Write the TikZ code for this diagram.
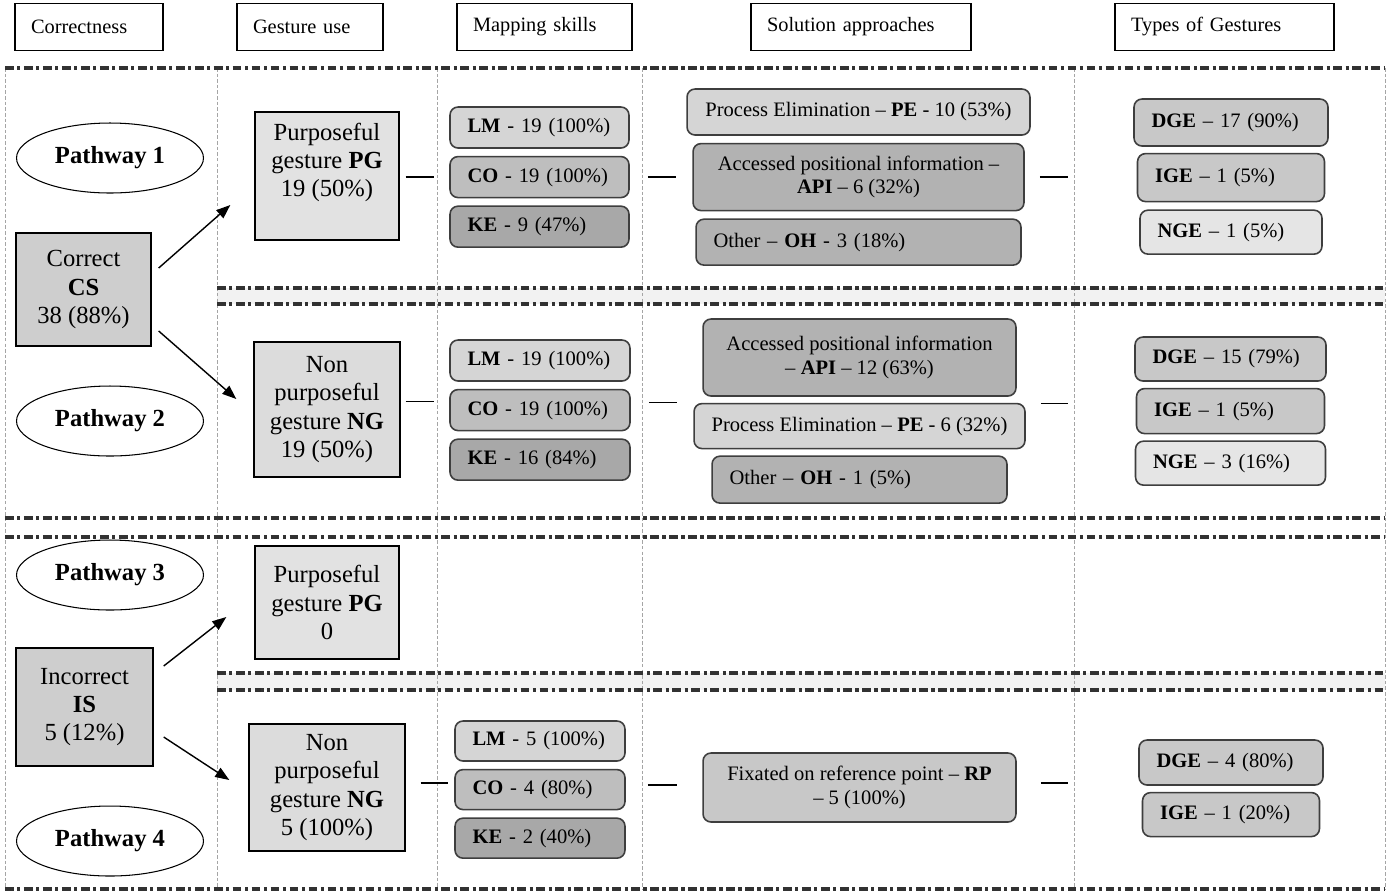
\documentclass[tikz,border=0pt]{standalone}
\usepackage{fontspec}
\setmainfont{Liberation Serif}
\usepackage{tikz}
\usepackage{xcolor}
\usetikzlibrary{arrows.meta, positioning, shapes.geometric}
\definecolor{BandGrey}{RGB}{242, 242, 242}
\definecolor{EdgeGrey}{RGB}{62, 62, 62}
\definecolor{RuleGrey}{RGB}{50, 50, 50}
\definecolor{GridGrey}{RGB}{165, 165, 165}
\definecolor{PaleFill}{RGB}{226, 226, 226}
\definecolor{NonFill}{RGB}{220, 220, 220}
\definecolor{BoxFill}{RGB}{206, 206, 206}
\definecolor{SoftFill}{RGB}{213, 213, 213}
\definecolor{MidFill}{RGB}{200, 200, 200}
\definecolor{ToneFill}{RGB}{190, 190, 190}
\definecolor{DeepFill}{RGB}{178, 178, 178}
\definecolor{DarkFill}{RGB}{168, 168, 168}
\definecolor{LightFill}{RGB}{229, 229, 229}

\begin{document}
\begin{tikzpicture}[
    x=0.02cm, y=-0.02cm,
    header/.style={draw, line width=0.8pt, font=\fontsize{11.6}{13.4}\selectfont,
        minimum height=0.94cm, inner xsep=0.32cm, align=left, text width=#1},
    pathway/.style={ellipse, draw, line width=0.6pt, fill=white,
        minimum width=3.74cm, minimum height=1.4cm, inner sep=0pt,
        font=\fontsize{14}{16}\selectfont\bfseries},
    result/.style={rectangle, draw, line width=0.8pt, fill=BoxFill,
        align=center, font=\fontsize{14}{16}\selectfont},
    gesture/.style={result, fill=PaleFill},
    skill/.style={rectangle, rounded corners=0.16cm, draw=EdgeGrey, line width=0.9pt,
        font=\fontsize{11.7}{13.4}\selectfont, inner xsep=0.35cm, align=center},
    leftskill/.style={skill, align=left, text width=#1},
    colrule/.style={draw=GridGrey, line width=0.5pt, dash pattern=on 2pt off 1.2pt},
    rowrule/.style={draw=RuleGrey, line width=2pt, dash pattern=on 5pt off 2pt on 1.8pt off 2pt},
    link/.style={draw=black, line width=0.8pt},
    arr/.style={draw=black, line width=0.8pt, -{Triangle[length=8pt, width=6pt]}}
]

\fill[white] (0,0) rectangle (1388,894);
\useasboundingbox (0,0) rectangle (1388,894);

% Frame
\fill[BandGrey] (217,288) rectangle (1385,304);
\fill[BandGrey] (217,673) rectangle (1385,690);
\foreach \x in {5,217,437,642,1074,1385}
    \draw[colrule] (\x,68) -- (\x,889);
\foreach \y in {68,518,537,889}
    \draw[rowrule] (5,\y) -- (1385,\y);
\foreach \y in {288,304,673,690}
    \draw[rowrule] (217,\y) -- (1385,\y);

% Column headers
\node[header=2.32cm] (hCorr) at (89,27) {Correctness};
\node[header=2.28cm] (hGest) at (310,27) {Gesture use};
\node[header=2.86cm] (hMap) at (544.5,27) {Mapping skills};
\node[header=3.76cm] (hSol) at (861,27) {Solution approaches};
\node[header=3.74cm] (hType) at (1224.5,27) {Types of Gestures};

% Pathways
\node[pathway] (pw1) at (110,158) {Pathway 1};
\node[pathway] (pw2) at (110,421) {Pathway 2};
\node[pathway] (pw3) at (110,575) {Pathway 3};
\node[pathway] (pw4) at (110,841) {Pathway 4};

% Correctness
\node[result, minimum width=2.7cm, minimum height=2.26cm] (cs) at (83.5,289.5) {Correct\\\textbf{CS}\\38 (88\%)};
\node[result, minimum width=2.74cm, minimum height=2.36cm] (is) at (84.5,707) {Incorrect\\\textbf{IS}\\5 (12\%)};

% Gesture use
\node[gesture, minimum width=2.88cm, minimum height=2.56cm] (pg1) at (327,176) {Purposeful\\gesture \textbf{PG}\\19 (50\%)\\[-2pt]\strut};
\node[gesture, fill=NonFill, minimum width=2.92cm, minimum height=2.7cm] (ng2) at (327,409.5) {Non\\purposeful\\gesture \textbf{NG}\\19 (50\%)};
\node[gesture, minimum width=2.88cm, minimum height=2.26cm] (pg3) at (327,602.5) {Purposeful\\gesture \textbf{PG}\\0};
\node[gesture, fill=NonFill, minimum width=3.12cm, minimum height=2.54cm] (ng4) at (327,787.5) {Non\\purposeful\\gesture \textbf{NG}\\5 (100\%)};

% Mapping skills
\node[leftskill=2.88cm, fill=SoftFill, minimum height=0.82cm] (lm1) at (539.5,127.5) {\textbf{LM} - 19 (100\%)};
\node[leftskill=2.88cm, fill=ToneFill, minimum height=0.82cm, below=0.14cm of lm1] (co1) {\textbf{CO} - 19 (100\%)};
\node[leftskill=2.88cm, fill=DarkFill, minimum height=0.82cm, below=0.14cm of co1] (ke1) {\textbf{KE} - 9 (47\%)};
\node[leftskill=2.9cm, fill=SoftFill, minimum height=0.82cm] (lm2) at (540,360.5) {\textbf{LM} - 19 (100\%)};
\node[leftskill=2.9cm, fill=ToneFill, minimum height=0.82cm, below=0.14cm of lm2] (co2) {\textbf{CO} - 19 (100\%)};
\node[leftskill=2.9cm, fill=DarkFill, minimum height=0.82cm, below=0.14cm of co2] (ke2) {\textbf{KE} - 16 (84\%)};
\node[leftskill=2.7cm, fill=SoftFill, minimum height=0.8cm] (lm4) at (540,741) {\textbf{LM} - 5 (100\%)};
\node[leftskill=2.7cm, fill=ToneFill, minimum height=0.8cm, below=0.14cm of lm4] (co4) {\textbf{CO} - 4 (80\%)};
\node[leftskill=2.7cm, fill=DarkFill, minimum height=0.8cm, below=0.14cm of co4] (ke4) {\textbf{KE} - 2 (40\%)};

% Solution approaches
\node[skill, fill=SoftFill, minimum width=6.86cm, minimum height=0.92cm] (pe1) at (858.5,112) {Process Elimination -- \textbf{PE} - 10 (53\%)};
\node[skill, fill=DeepFill, minimum width=6.62cm, minimum height=1.34cm, below=0.14cm of pe1] (api1) {Accessed positional information --\\\textbf{API} -- 6 (32\%)};
\node[leftskill=5.8cm, fill=DeepFill, minimum height=0.92cm, below=0.14cm of api1] (oh1) {Other -- \textbf{OH} - 3 (18\%)};
\node[skill, fill=DeepFill, minimum width=6.26cm, minimum height=1.54cm] (api2) at (859.5,357.5) {Accessed positional information\\-- \textbf{API} -- 12 (63\%)};
\node[skill, fill=SoftFill, minimum width=6.62cm, minimum height=0.9cm, below=0.12cm of api2] (pe2) {Process Elimination -- \textbf{PE} - 6 (32\%)};
\node[leftskill=5.2cm, fill=DeepFill, minimum height=0.94cm, below=0.12cm of pe2] (oh2) {Other -- \textbf{OH} - 1 (5\%)};
\node[skill, fill=MidFill, minimum width=6.26cm, minimum height=1.38cm] (rp4) at (859.5,787.5) {Fixated on reference point -- \textbf{RP}\\-- 5 (100\%)};

% Types of gestures
\node[leftskill=3.18cm, fill=MidFill, minimum height=0.94cm] (dge1) at (1231,122.5) {\textbf{DGE} -- 17 (90\%)};
\node[leftskill=3.04cm, fill=MidFill, minimum height=0.96cm, below=0.12cm of dge1] (ige1) {\textbf{IGE} -- 1 (5\%)};
\node[leftskill=2.94cm, fill=LightFill, minimum height=0.88cm, below=0.14cm of ige1] (nge1) {\textbf{NGE} -- 1 (5\%)};
\node[leftskill=3.12cm, fill=MidFill, minimum height=0.88cm] (dge2) at (1230.5,359) {\textbf{DGE} -- 15 (79\%)};
\node[leftskill=3.06cm, fill=MidFill, minimum height=0.9cm, below=0.12cm of dge2] (ige2) {\textbf{IGE} -- 1 (5\%)};
\node[leftskill=3.1cm, fill=LightFill, minimum height=0.88cm, below=0.12cm of ige2] (nge2) {\textbf{NGE} -- 3 (16\%)};
\node[leftskill=2.98cm, fill=MidFill, minimum height=0.9cm] (dge4) at (1231,762.5) {\textbf{DGE} -- 4 (80\%)};
\node[leftskill=2.84cm, fill=MidFill, minimum height=0.88cm, below=0.12cm of dge4] (ige4) {\textbf{IGE} -- 1 (20\%)};

% Correctness to gesture use
\draw[arr] ([shift={(7,-21.5)}]cs.east) -- ([shift={(-24,29)}]pg1.west);
\draw[arr] ([shift={(7,41.5)}]cs.east) -- ([shift={(-17,-10.5)}]ng2.west);
\draw[arr] ([shift={(10,-41)}]is.east) -- ([shift={(-28,14.5)}]pg3.west);
\draw[arr] ([shift={(10,30)}]is.east) -- ([shift={(-19,-7.5)}]ng4.west);

% Links, pathway 1
\draw[link, shorten <=0.12cm, shorten >=0.3cm] (pg1.east |- co1.west) -- (co1.west);
\draw[link, shorten <=0.36cm, shorten >=0.32cm] (co1.east) -- (co1.east -| api1.west);
\draw[link, shorten <=0.3cm, shorten >=1.38cm] (api1.east) -- (api1.east -| ige1.west);

% Links, pathway 2
\draw[link, shorten <=0.1cm, shorten >=0.3cm] ([yshift=0.16cm]ng2.east) -- ([yshift=0.16cm]ng2.east -| co2.west);
\draw[link, shorten <=0.36cm, shorten >=0.32cm] ([yshift=0.15cm]co2.east) -- ([yshift=0.15cm]co2.east -| pe2.west);
\draw[link, shorten <=0.3cm, shorten >=1.36cm] ([yshift=0.15cm]ige2.west -| pe2.east) -- ([yshift=0.15cm]ige2.west);

% Links, pathway 4
\draw[link, shorten <=0.3cm, shorten >=0.12cm] ([yshift=0.09cm]ng4.east) -- ([yshift=0.09cm]ng4.east -| co4.west);
\draw[link, shorten <=0.44cm, shorten >=0.5cm] ([yshift=0.09cm]co4.east) -- ([yshift=0.09cm]co4.east -| rp4.west);
\draw[link, shorten <=0.48cm, shorten >=1.4cm] ([yshift=0.09cm]rp4.east) -- ([yshift=0.09cm]rp4.east -| dge4.west);

\end{tikzpicture}
\end{document}
